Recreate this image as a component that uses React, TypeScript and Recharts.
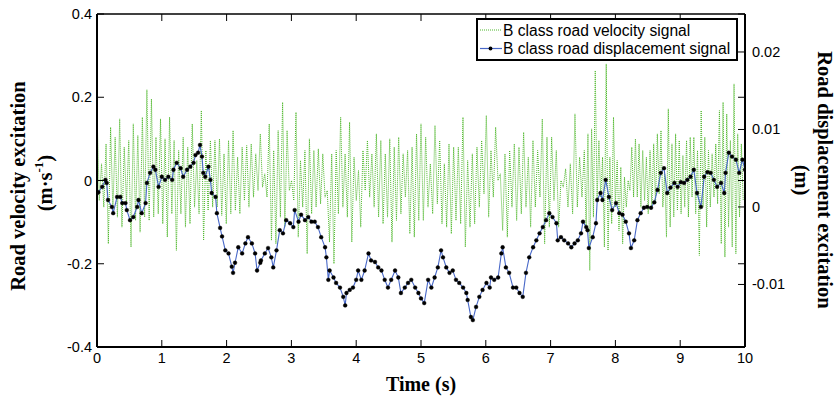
import React from 'react';
import { LineChart, Line, XAxis, YAxis, Legend } from 'recharts';

// ---------- axes ----------
const timeTicks = [0, 1, 2, 3, 4, 5, 6, 7, 8, 9, 10];
const velocityTicks = [-0.4, -0.2, 0, 0.2, 0.4];
const displacementTicks = [-0.01, 0, 0.01, 0.02];
const timeDomain: [number, number] = [0, 10];
const velocityDomain: [number, number] = [-0.4, 0.4];
const displacementDomain: [number, number] = [-0.01807, 0.0249];

// ---------- B class road velocity signal (m/s), alternating peaks/troughs read per time segment ----------
const velocitySegmentBounds = [0, 2.52, 5.0, 7.52, 10];
const velocitySeg1 = [
  0.168, -0.048, 0.040, -0.064, 0.088, -0.152, 0.128, -0.072, 0.104, -0.088, 0.148, -0.112,
  0.080, -0.056, 0.096, -0.160, 0.136, -0.096, 0.108, -0.124, 0.152, -0.088, 0.218, -0.096,
  0.196, -0.088, 0.104, -0.080, 0.148, -0.104, 0.100, -0.136, 0.152, -0.080, 0.096, -0.168,
  0.072, -0.080, 0.104, -0.112, 0.080, -0.104, 0.136, -0.064, 0.048, -0.080, 0.168, -0.144,
  0.072, -0.072, 0.096, -0.064, 0.096, -0.064, 0.100, -0.084, 0.064, -0.104, 0.096, -0.080,
  0.120, -0.072, 0.056, -0.080, 0.080, -0.048, 0.084, -0.064, 0.088, -0.040, 0.064, -0.024,
];
const velocitySeg2 = [
  0.112, -0.016, 0.016, -0.040, 0.136, -0.144, 0.072, -0.152, 0.120, -0.088, 0.188, -0.112,
  0.120, -0.024, 0.000, -0.048, 0.164, -0.136, 0.048, -0.064, 0.072, -0.176, 0.100, -0.080,
  0.072, -0.064, 0.076, -0.056, 0.064, -0.040, -0.024, -0.148, 0.064, -0.200, 0.072, -0.080,
  0.152, -0.064, 0.064, -0.088, 0.140, -0.148, 0.056, -0.048, 0.024, -0.112, 0.072, -0.024,
  0.096, -0.040, 0.064, -0.064, 0.112, -0.088, 0.096, -0.104, 0.064, -0.088, 0.100, -0.148,
  0.080, -0.096, 0.104, -0.080, 0.064, -0.040, 0.072, -0.128, 0.080, -0.136, 0.112, -0.096,
];
const velocitySeg3 = [
  0.136, -0.096, 0.104, -0.064, 0.040, -0.080, 0.132, -0.056, 0.096, -0.104, 0.040, -0.112,
  0.088, -0.128, 0.080, -0.096, 0.080, -0.104, 0.152, -0.160, 0.048, -0.112, 0.064, -0.104,
  0.080, -0.064, 0.096, -0.032, 0.156, -0.088, 0.072, -0.040, 0.128, 0.000, 0.016, -0.120,
  0.064, -0.136, 0.072, -0.064, 0.088, -0.096, 0.080, -0.080, 0.116, -0.064, 0.056, -0.112,
  0.096, -0.064, 0.072, -0.040, 0.148, -0.152, 0.104, -0.112, 0.104, -0.048, 0.072, -0.112,
  0.000, -0.016, 0.028, -0.064, 0.040, -0.080, 0.160, -0.064, 0.056, -0.040,
];
const velocitySeg4 = [
  0.072, -0.112, 0.112, -0.216, 0.124, -0.088, 0.264, -0.048, 0.096, -0.040, 0.056, -0.160,
  0.280, -0.168, 0.056, -0.104, 0.152, -0.064, 0.048, -0.120, 0.032, -0.152, 0.008, -0.064,
  0.000, -0.024, 0.080, -0.040, 0.100, -0.040, 0.088, -0.064, 0.072, -0.048, 0.056, -0.080,
  0.072, -0.064, 0.088, -0.056, 0.112, -0.032, 0.120, -0.064, 0.016, -0.136, 0.172, -0.112,
  0.088, -0.088, 0.112, -0.072, 0.096, -0.080, 0.060, -0.064, 0.096, -0.088, 0.104, -0.040,
  0.104, -0.080, 0.072, -0.180, 0.168, -0.064, 0.104, -0.112, 0.072, -0.064, 0.064, -0.040,
  0.088, -0.056, 0.168, -0.152, 0.188, -0.184, 0.160, -0.112, 0.096, -0.160, 0.232, -0.176,
  0.112, -0.088, 0.088, -0.048,
];

// ---------- B class road displacement signal (m) ----------
const dispTime = [
  0.00, 0.02, 0.08, 0.13, 0.15, 0.17, 0.23, 0.25, 0.31, 0.36, 0.39, 0.44, 0.46, 0.51, 0.56, 0.62,
  0.64, 0.69, 0.75, 0.77, 0.82, 0.87, 0.90, 0.95, 1.00, 1.05, 1.10, 1.16, 1.18, 1.23, 1.29, 1.33,
  1.39, 1.44, 1.49, 1.52, 1.56, 1.59, 1.62, 1.64, 1.67, 1.72, 1.75, 1.77, 1.83, 1.85, 1.90, 1.93,
  1.98, 2.03, 2.08, 2.10, 2.13, 2.18, 2.24, 2.29, 2.33, 2.39, 2.44, 2.47, 2.52,
  2.53, 2.59, 2.64, 2.69, 2.72, 2.77, 2.82, 2.87, 2.92, 2.98, 3.03, 3.05, 3.11, 3.15, 3.21, 3.26,
  3.31, 3.36, 3.41, 3.46, 3.52, 3.54, 3.57, 3.59, 3.65, 3.69, 3.75, 3.80, 3.83, 3.85, 3.90, 3.95,
  4.00, 4.03, 4.08, 4.13, 4.19, 4.23, 4.29, 4.34, 4.39, 4.44, 4.49, 4.54, 4.60, 4.65, 4.69, 4.75,
  4.80, 4.85, 4.91, 4.96, 5.00,
  5.05, 5.11, 5.16, 5.21, 5.26, 5.31, 5.34, 5.39, 5.44, 5.49, 5.54, 5.59, 5.65, 5.70, 5.72, 5.77,
  5.80, 5.85, 5.90, 5.95, 6.01, 6.06, 6.08, 6.13, 6.19, 6.24, 6.26, 6.31, 6.36, 6.42, 6.47, 6.52,
  6.57, 6.62, 6.67, 6.73, 6.78, 6.83, 6.88, 6.93, 6.98, 7.03, 7.09, 7.11, 7.16, 7.21, 7.27, 7.32,
  7.37, 7.42, 7.47, 7.50, 7.55,
  7.57, 7.59, 7.65, 7.70, 7.72, 7.77, 7.80, 7.85, 7.90, 7.95, 8.01, 8.06, 8.11, 8.16, 8.21, 8.24,
  8.29, 8.34, 8.39, 8.44, 8.49, 8.55, 8.60, 8.65, 8.70, 8.75, 8.80, 8.85, 8.91, 8.96, 9.01, 9.06,
  9.11, 9.16, 9.21, 9.26, 9.32, 9.37, 9.42, 9.47, 9.52, 9.57, 9.63, 9.68, 9.70, 9.75, 9.80, 9.86,
  9.91, 9.96, 10.00,
];
const dispValue = [
  0.0018, 0.0019, 0.0026, 0.0035, 0.0031, 0.0009, 0.0000, -0.0008, 0.0013, 0.0013, 0.0005, 0.0005,
  -0.0004, -0.0017, -0.0013, 0.0000, 0.0009, -0.0008, 0.0005, 0.0031, 0.0044, 0.0052, 0.0048, 0.0026,
  0.0039, 0.0035, 0.0039, 0.0035, 0.0048, 0.0057, 0.0050, 0.0039, 0.0048, 0.0052, 0.0057, 0.0067,
  0.0070, 0.0080, 0.0065, 0.0044, 0.0039, 0.0052, 0.0035, 0.0018, 0.0013, -0.0008, -0.0027, -0.0038,
  -0.0056, -0.0060, -0.0077, -0.0085, -0.0072, -0.0052, -0.0060, -0.0047, -0.0039, -0.0047, -0.0060,
  -0.0082, -0.0072,
  -0.0069, -0.0060, -0.0053, -0.0065, -0.0078, -0.0056, -0.0030, -0.0034, -0.0017, -0.0021, -0.0026,
  -0.0004, -0.0019, -0.0010, -0.0017, -0.0013, -0.0019, -0.0019, -0.0026, -0.0039, -0.0052, -0.0065,
  -0.0094, -0.0082, -0.0091, -0.0098, -0.0104, -0.0116, -0.0127, -0.0111, -0.0107, -0.0104, -0.0094,
  -0.0082, -0.0094, -0.0082, -0.0060, -0.0069, -0.0071, -0.0078, -0.0082, -0.0094, -0.0104, -0.0094,
  -0.0082, -0.0091, -0.0111, -0.0104, -0.0098, -0.0094, -0.0104, -0.0111, -0.0118,
  -0.0124, -0.0094, -0.0104, -0.0091, -0.0078, -0.0056, -0.0065, -0.0078, -0.0085, -0.0082, -0.0094,
  -0.0098, -0.0104, -0.0111, -0.0120, -0.0142, -0.0146, -0.0129, -0.0116, -0.0107, -0.0098, -0.0104,
  -0.0091, -0.0094, -0.0091, -0.0060, -0.0052, -0.0078, -0.0085, -0.0104, -0.0104, -0.0111, -0.0116,
  -0.0085, -0.0065, -0.0052, -0.0043, -0.0034, -0.0026, -0.0017, -0.0008, -0.0013, -0.0021, -0.0043,
  -0.0039, -0.0043, -0.0047, -0.0052, -0.0047, -0.0043, -0.0034, -0.0019, -0.0026,
  -0.0030, -0.0053, -0.0039, -0.0021, 0.0009, 0.0018, 0.0009, 0.0035, 0.0013, -0.0004, 0.0005,
  -0.0008, -0.0010, -0.0019, -0.0034, -0.0053, -0.0043, -0.0017, -0.0008, -0.0001, 0.0000, -0.0001,
  0.0006, 0.0022, 0.0044, 0.0050, 0.0018, 0.0025, 0.0031, 0.0026, 0.0032, 0.0031, 0.0035, 0.0039,
  0.0048, 0.0018, 0.0000, 0.0039, 0.0045, 0.0044, 0.0035, 0.0026, 0.0031, 0.0018, 0.0044, 0.0070,
  0.0065, 0.0061, 0.0044, 0.0061, 0.0048,
];

const seriesNames = ['B class road velocity signal', 'B class road displacement signal'];

// ---------- build data for the library ----------
const velocityData = [velocitySeg1, velocitySeg2, velocitySeg3, velocitySeg4].flatMap((seg, k) => {
  const a = velocitySegmentBounds[k];
  const b = velocitySegmentBounds[k + 1];
  return seg.map((v, i) => ({ t: a + ((b - a) * i) / seg.length, v }));
});
const displacementData = dispTime
  .slice(0, Math.min(dispTime.length, dispValue.length))
  .map((t, i) => ({ t, d: dispValue[i] }));

// ---------- styling ----------
const W = 835;
const H = 398;
const PLOT_W = 648;
const TICK_LEN = 7;
const GREEN = '#4fb82c';
const BLUE = '#4868c8';
const SANS = '"Liberation Sans", Arial, Helvetica, sans-serif';
const SERIF = '"Liberation Serif", "Times New Roman", Times, serif';

const BottomTick = (props: any) => {
  const { x, y, payload } = props;
  return (
    <g>
      <line x1={x} y1={y} x2={x} y2={y - TICK_LEN} stroke="#000" strokeWidth={1} />
      <text x={x} y={y + 16} textAnchor="middle" fontFamily={SANS} fontSize={14.5} fill="#000">
        {String(payload.value)}
      </text>
    </g>
  );
};

const TopTick = (props: any) => {
  const { x, y } = props;
  return <line x1={x} y1={y} x2={x} y2={y + TICK_LEN} stroke="#000" strokeWidth={1} />;
};

const LeftTick = (props: any) => {
  const { x, y, payload } = props;
  return (
    <g>
      <line x1={x} y1={y} x2={x + TICK_LEN} y2={y} stroke="#000" strokeWidth={1} />
      <line x1={x + PLOT_W} y1={y} x2={x + PLOT_W - TICK_LEN} y2={y} stroke="#000" strokeWidth={1} />
      <text x={x - 5} y={y + 5} textAnchor="end" fontFamily={SANS} fontSize={14.5} fill="#000">
        {String(payload.value)}
      </text>
    </g>
  );
};

const RightTick = (props: any) => {
  const { x, y, payload } = props;
  return (
    <g>
      <line x1={x} y1={y} x2={x - TICK_LEN} y2={y} stroke="#000" strokeWidth={1} />
      <text x={x + 7} y={y + 5} textAnchor="start" fontFamily={SANS} fontSize={14.5} fill="#000">
        {String(payload.value)}
      </text>
    </g>
  );
};

const titleProps = { fontFamily: SERIF, fontSize: 20.5, fontWeight: 'bold' as const, fill: '#000' };

const LeftTitle = () => (
  <g>
    <text x={18} y={186} transform="rotate(-90 18 186)" textAnchor="middle" dominantBaseline="central" {...titleProps}>
      Road velocity excitation
    </text>
    <text x={45} y={183} transform="rotate(-90 45 183)" textAnchor="middle" dominantBaseline="central" {...titleProps}>
      (m·s
      <tspan dy={-7} fontSize={13}>-1</tspan>
      <tspan dy={7}>)</tspan>
    </text>
  </g>
);

const RightTitle = () => (
  <g>
    <text x={825} y={180} transform="rotate(90 825 180)" textAnchor="middle" dominantBaseline="central" {...titleProps}>
      Road displacement excitation
    </text>
    <text x={802} y={180} transform="rotate(90 802 180)" textAnchor="middle" dominantBaseline="central" {...titleProps}>
      (m)
    </text>
  </g>
);

const BottomTitle = () => (
  <text x={421} y={391} textAnchor="middle" fontFamily={SERIF} fontSize={20} fontWeight="bold" fill="#000">
    Time (s)
  </text>
);

const LegendBox = () => (
  <svg width={262} height={43} style={{ display: 'block' }}>
    <rect x={1} y={1} width={260} height={41} fill="#fff" stroke="#000" strokeWidth={2} />
    <line x1={4} y1={12} x2={26} y2={12} stroke={GREEN} strokeWidth={1} strokeDasharray="1 1" />
    <text x={27} y={17.6} fontFamily={SANS} fontSize={15.6} fill="#000">{seriesNames[0]}</text>
    <line x1={4} y1={30.5} x2={26} y2={30.5} stroke={BLUE} strokeWidth={1.2} />
    <circle cx={14.5} cy={30.5} r={1.9} fill="#000" />
    <text x={27} y={36.1} fontFamily={SANS} fontSize={15.6} fill="#000">{seriesNames[1]}</text>
  </svg>
);

export default function App() {
  return (
    <div style={{ position: 'absolute', left: 0, top: 0, width: W, height: H, background: '#fff' }}>
      <LineChart width={W} height={H} margin={{ top: 13, right: 0, bottom: 0, left: 0 }}>
        <XAxis
          xAxisId="bottom"
          dataKey="t"
          type="number"
          domain={timeDomain}
          ticks={timeTicks}
          interval={0}
          allowDataOverflow
          height={51}
          tickSize={0}
          tickMargin={0}
          tickLine={false}
          axisLine={{ stroke: '#000', strokeWidth: 2 }}
          tick={BottomTick}
          label={BottomTitle}
        />
        <XAxis
          xAxisId="top"
          orientation="top"
          dataKey="t"
          type="number"
          domain={timeDomain}
          ticks={timeTicks}
          interval={0}
          allowDataOverflow
          height={1}
          tickSize={0}
          tickMargin={0}
          tickLine={false}
          axisLine={{ stroke: '#000', strokeWidth: 1.3 }}
          tick={TopTick}
        />
        <YAxis
          yAxisId="left"
          orientation="left"
          type="number"
          domain={velocityDomain}
          ticks={velocityTicks}
          interval={0}
          allowDataOverflow
          width={97}
          tickSize={0}
          tickMargin={0}
          tickLine={false}
          axisLine={{ stroke: '#000', strokeWidth: 2 }}
          tick={LeftTick}
          label={LeftTitle}
        />
        <YAxis
          yAxisId="right"
          orientation="right"
          type="number"
          domain={displacementDomain}
          ticks={displacementTicks}
          interval={0}
          allowDataOverflow
          width={90}
          tickSize={0}
          tickMargin={0}
          tickLine={false}
          axisLine={{ stroke: '#000', strokeWidth: 2 }}
          tick={RightTick}
          label={RightTitle}
        />
        <Line
          data={velocityData}
          dataKey="v"
          name={seriesNames[0]}
          xAxisId="bottom"
          yAxisId="left"
          type="linear"
          stroke={GREEN}
          strokeWidth={1}
          strokeDasharray="1 1"
          dot={false}
          activeDot={false}
          isAnimationActive={false}
        />
        <Line
          data={displacementData}
          dataKey="d"
          name={seriesNames[1]}
          xAxisId="top"
          yAxisId="right"
          type="linear"
          stroke={BLUE}
          strokeWidth={1.1}
          dot={{ r: 1.9, fill: '#000', stroke: '#000', strokeWidth: 0.4 }}
          activeDot={false}
          isAnimationActive={false}
        />
        <Legend
          layout="vertical"
          align="center"
          verticalAlign="middle"
          wrapperStyle={{ position: 'absolute', left: 476, top: 18, width: 262, height: 43 }}
          content={() => <LegendBox />}
        />
      </LineChart>
    </div>
  );
}
